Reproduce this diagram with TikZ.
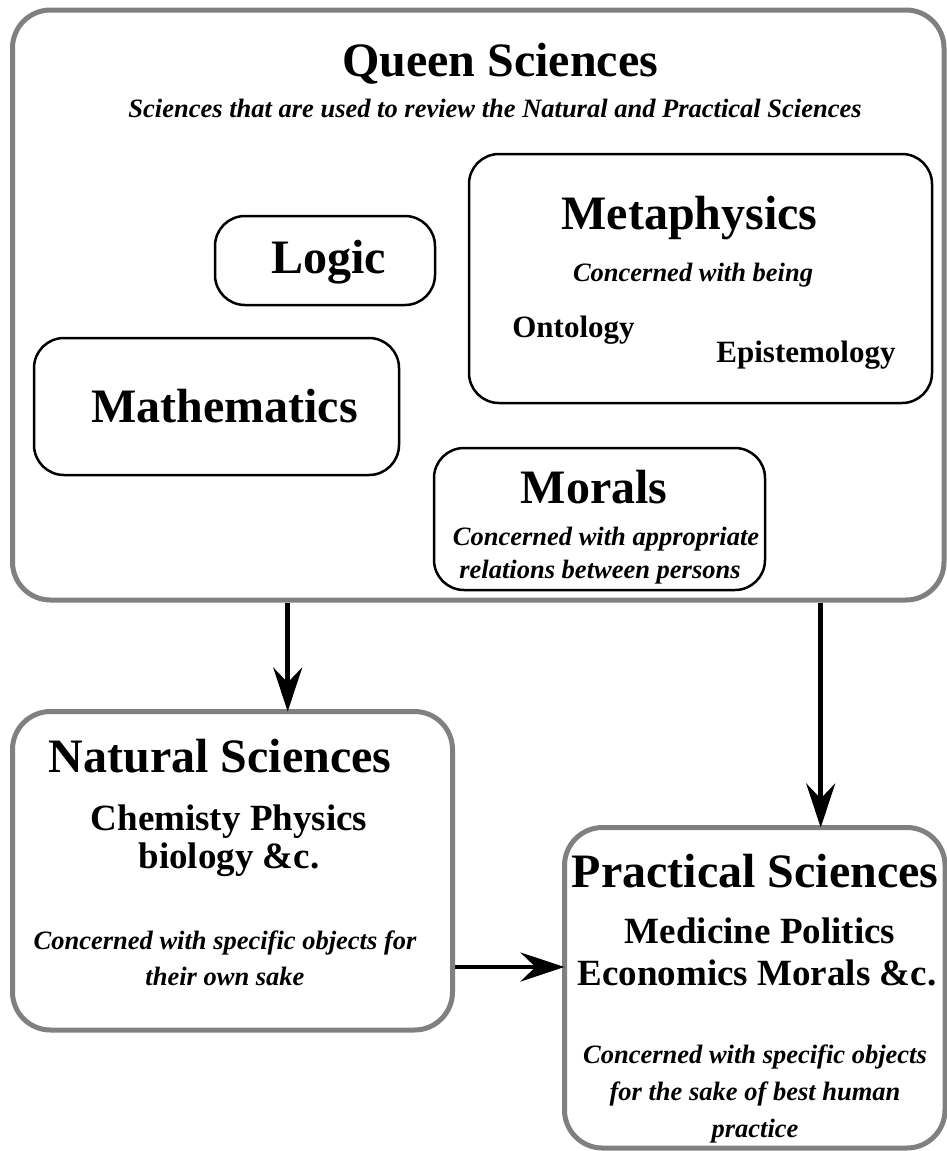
\documentclass[tikz,border=0pt]{standalone}
\usepackage{fontspec}
\setmainfont{Liberation Serif}
\usetikzlibrary{arrows.meta}
\definecolor{framegray}{RGB}{128,128,128}
\tikzset{
  frame/.style={draw=framegray, line width=5pt, rounded corners=38pt, inner sep=0pt},
  topic/.style={draw=black, line width=2.5pt, rounded corners=30pt, inner sep=0pt},
  head/.style={font=\fontsize{48}{48}\selectfont\bfseries, anchor=base, inner sep=0pt},
  list/.style={font=\fontsize{37}{37}\selectfont\bfseries, anchor=base, inner sep=0pt},
  term/.style={font=\fontsize{31}{31}\selectfont\bfseries, anchor=base, inner sep=0pt},
  note/.style={font=\fontsize{26.5}{26.5}\selectfont\bfseries\itshape, anchor=base, inner sep=0pt},
  flow/.style={line width=4.5pt, shorten >=-2.5pt,
    -{Stealth[length=44pt, width=29pt, inset=15pt]}},
}
\begin{document}
\begin{tikzpicture}[x=1pt, y=-1pt]
\useasboundingbox (0,0) rectangle (947,1151);

% main frames
\node[frame, minimum width=931.5pt, minimum height=590pt] (queen) at (478.25,305) {};
\node[frame, minimum width=440pt, minimum height=318.5pt] (natural) at (232.5,870.75) {};
\node[frame, minimum width=380.5pt, minimum height=320.5pt] (practical) at (754.75,987.75) {};

% sub-disciplines of the queen sciences
\node[topic, minimum width=220pt, minimum height=89pt] (logicbox) at (325,260.5) {};
\node[topic, minimum width=463pt, minimum height=249pt] (metabox) at (700.5,278.5) {};
\node[topic, minimum width=365pt, minimum height=137pt] (mathbox) at (216.5,406.5) {};
\node[topic, minimum width=331pt, minimum height=142pt] (moralbox) at (599.5,519) {};

% queen sciences texts
\node[head] (qtitle) at (500,76) {Queen Sciences};
\node[note] (qnote) at (495,117) {Sciences that are used to review the Natural and Practical Sciences};
\node[head] (logic) at (328.5,273) {Logic};
\node[head] (meta) at (689.5,229) {Metaphysics};
\node[note] (metanote) at (693,281) {Concerned with being};
\node[term] (onto) at (573.5,337) {Ontology};
\node[term] (epis) at (806,362) {Epistemology};
\node[head] (math) at (224.5,422) {Mathematics};
\node[head] (morals) at (594,503) {Morals};
\node[note] (moralnoteA) at (606,545) {Concerned with appropriate};
\node[note] (moralnoteB) at (600,578) {relations between persons};

% natural sciences texts
\node[head] (ntitle) at (220,772) {Natural Sciences};
\node[list] (nlistA) at (229,830) {Chemisty Physics};
\node[list] (nlistB) at (229,868) {biology \&c.};
\node[note] (nnoteA) at (225,949) {Concerned with specific objects for};
\node[note] (nnoteB) at (225,985) {their own sake};

% practical sciences texts
\node[head] (ptitle) at (755,887) {Practical Sciences};
\node[list] (plistA) at (760,943) {Medicine Politics};
\node[list] (plistB) at (757,985) {Economics Morals \&c.};
\node[note] (pnoteA) at (755,1063) {Concerned with specific objects};
\node[note] (pnoteB) at (755,1100) {for the sake of best human};
\node[note] (pnoteC) at (755,1137) {practice};

% connectors
\coordinate (left) at (287.7,0);
\coordinate (right) at (820.7,0);
\coordinate (mid) at (0,967);
\draw[flow] (left |- queen.south) -- (left |- natural.north);
\draw[flow] (right |- queen.south) -- (right |- practical.north);
\draw[flow] (mid -| natural.east) -- (mid -| practical.west);
\end{tikzpicture}
\end{document}
